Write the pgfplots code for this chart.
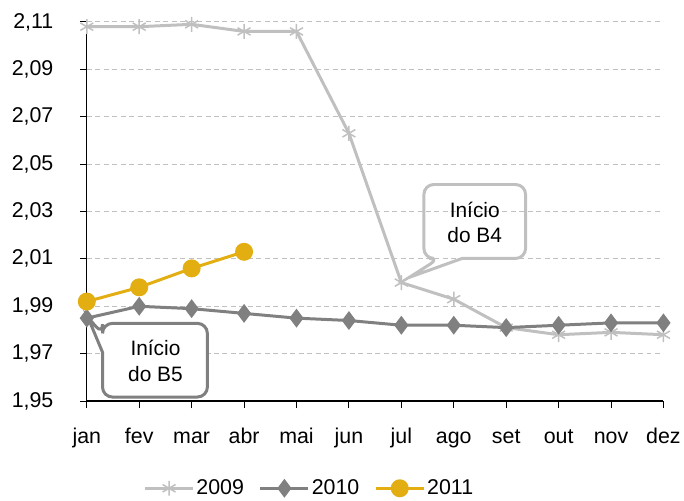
\documentclass[border=0pt]{standalone}
\usepackage{fontspec}
\setmainfont{Liberation Sans}
\usepackage{pgfplots}
\pgfplotsset{compat=1.18}
\definecolor{c09}{RGB}{192,192,192}
\definecolor{c10}{RGB}{128,128,128}
\definecolor{c11}{RGB}{226,174,18}
\begin{document}
\begin{tikzpicture}
\begin{axis}[
  scale only axis, width=578bp, height=380bp,
  xmin=0, xmax=11, ymin=1.95, ymax=2.11,
  clip=false,
  axis lines*=left,
  axis line style={black, line width=1.2pt},
  xtick={0,...,11},
  xticklabels={jan,fev,mar,abr,mai,jun,jul,ago,set,out,nov,dez},
  ytick={1.95,1.97,1.99,2.01,2.03,2.05,2.07,2.09,2.11},
  /pgf/number format/fixed, /pgf/number format/fixed zerofill, /pgf/number format/precision=2,
  /pgf/number format/use comma, /pgf/number format/assume math mode=true,
  ymajorgrids, grid style={dash pattern=on 5bp off 3.5bp, c09, line width=1pt},
  tick style={black, line width=1pt}, major tick length=7bp, tick align=outside,
  tick label style={font=\fontsize{21.5}{24}\selectfont},
  xticklabel style={anchor=base, yshift=-36bp},
  yticklabel style={xshift=-23bp},
  legend style={at={(0.386,-0.23)}, anchor=center, draw=none, legend columns=3,
    font=\fontsize{21.5}{24}\selectfont,
    /tikz/every even column/.append style={column sep=13bp}},
  legend image code/.code={\draw[mark repeat=2,mark phase=2] plot coordinates {(0bp,0bp)(24bp,0bp)(48bp,0bp)};},
]
\path ([shift={(-87bp,-98bp)}]rel axis cs:0,0) ([shift={(19bp,22bp)}]rel axis cs:1,1);
\addplot[c09, line width=3bp, mark=asterisk, mark size=7.5bp, mark options={line width=1.5bp}] coordinates {
 (0,2.108) (1,2.108) (2,2.109) (3,2.106) (4,2.106) (5,2.063) (6,2.000) (7,1.993) (8,1.981) (9,1.978) (10,1.979) (11,1.978)};
\addlegendentry{2009}
\addplot[c10, line width=3bp, mark=diamond*, mark size=7bp] coordinates {
 (0,1.985) (1,1.990) (2,1.989) (3,1.987) (4,1.985) (5,1.984) (6,1.982) (7,1.982) (8,1.981) (9,1.982) (10,1.983) (11,1.983)};
\addlegendentry{2010}
\addplot[c11, line width=3bp, mark=*, mark size=7.5bp] coordinates {
 (0,1.992) (1,1.998) (2,2.006) (3,2.013)};
\addlegendentry{2011}
\draw[c09, line width=3bp, rounded corners=10bp] (axis cs:7.16,2.0102) -- (axis cs:8.37,2.0102) -- (axis cs:8.37,2.0414) -- (axis cs:6.43,2.0414) -- (axis cs:6.43,2.0102) -- (axis cs:6.72,2.0102) [sharp corners] -- (axis cs:6.15,2.0022) -- cycle;
\node[align=center, font=\fontsize{21}{26}\selectfont, text=black] at (axis cs:7.40,2.0254) {Início\\do B4};
\draw[c10, fill=white, line width=3bp, rounded corners=10bp] (axis cs:0.30,1.9706) -- (axis cs:0.30,1.9517) -- (axis cs:2.30,1.9517) -- (axis cs:2.30,1.9828) -- (axis cs:0.30,1.9828) -- (axis cs:0.30,1.9782) [sharp corners] -- (axis cs:0.02,1.9854) -- cycle;
\node[align=center, font=\fontsize{21}{26}\selectfont, text=black] at (axis cs:1.31,1.9668) {Início\\do B5};
\end{axis}
\end{tikzpicture}
\end{document}
